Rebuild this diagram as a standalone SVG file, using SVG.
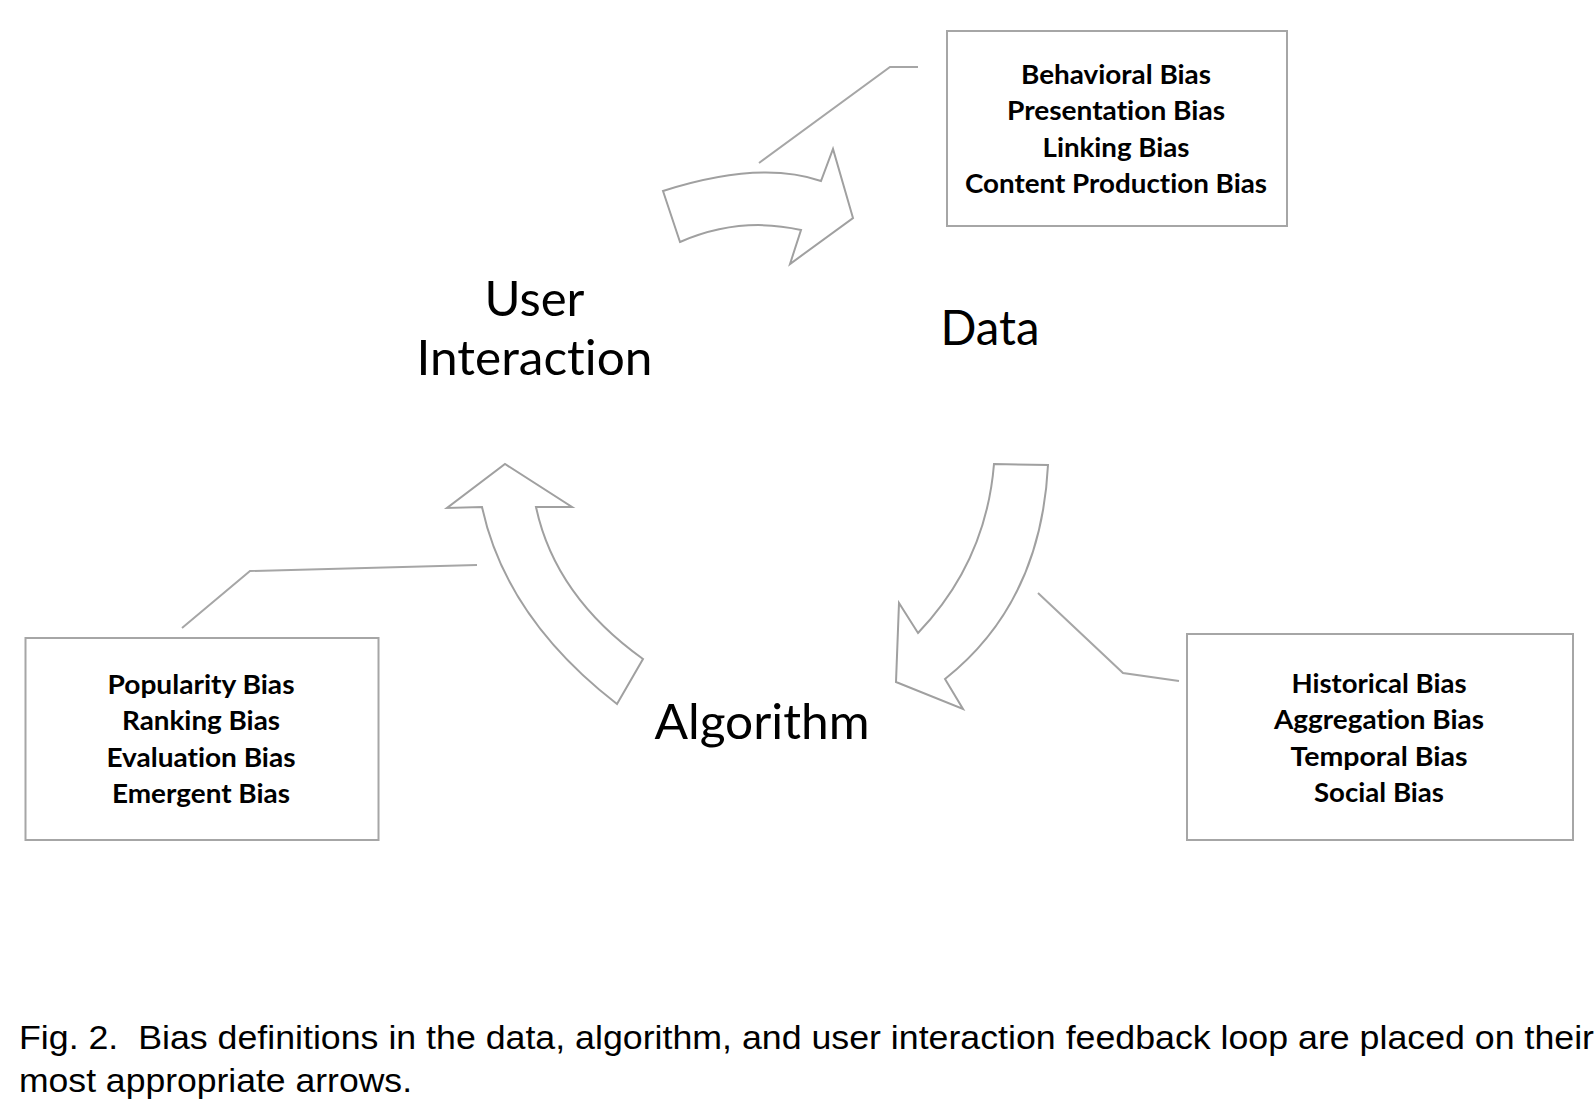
<svg xmlns="http://www.w3.org/2000/svg" width="1596" height="1110" viewBox="0 0 1596 1110">
<style>
.box{fill:#fff;stroke:#a6a6a6;stroke-width:2}
.arrow{fill:#fff;stroke:#a0a0a0;stroke-width:2;stroke-linejoin:miter}
.call{fill:none;stroke:#a6a6a6;stroke-width:2}
.lbl{font-family:Lato,"Open Sans",sans-serif;font-size:48px;fill:#000;text-anchor:middle;font-variant-ligatures:none}
.bias{font-family:Lato,"Open Sans",sans-serif;font-weight:bold;font-size:27px;fill:#000;text-anchor:middle;font-variant-ligatures:none}
.cap{font-family:"Liberation Sans",Arial,sans-serif;font-size:33px;fill:#000;white-space:pre}
</style>
<rect width="1596" height="1110" fill="#fff"/>
<g id="connectors">
<path class="arrow" d="M 663,191 Q 760,160 821,181 L 833,149 L 853,218 L 790,264 L 801,230 Q 740,216 680,242 Z"/>
<path class="arrow" d="M 617,704 Q 506,618 482,507 L 447,508 L 505,464 L 572,507 L 536,507 Q 555,596 643,659 Z"/>
<path class="arrow" d="M 994,464 L 1048,465 Q 1041,603 945,679 L 963,709 L 896,682 L 899,603 L 918,633 Q 986,562 994,464 Z"/>
<polyline class="call" points="759,163 890,67 918,67"/>
<polyline class="call" points="182,628 250,571 477,565"/>
<polyline class="call" points="1038,593 1123,673 1179,681"/>
</g>
<g id="user-interaction">
<text class="lbl" x="534.5" y="315.5" textLength="100" lengthAdjust="spacingAndGlyphs">User</text>
<text class="lbl" x="534.5" y="374.5" textLength="236" lengthAdjust="spacingAndGlyphs">Interaction</text>
</g>
<g id="data">
<text class="lbl" x="990" y="345" textLength="99" lengthAdjust="spacingAndGlyphs">Data</text>
</g>
<g id="algorithm">
<text class="lbl" x="762" y="739" textLength="215" lengthAdjust="spacingAndGlyphs">Algorithm</text>
</g>
<g id="data-biases">
<rect class="box" x="947" y="31" width="340" height="195"/>
<text class="bias" x="1116" y="83.5" textLength="190" lengthAdjust="spacingAndGlyphs">Behavioral Bias</text>
<text class="bias" x="1116" y="120" textLength="218" lengthAdjust="spacingAndGlyphs">Presentation Bias</text>
<text class="bias" x="1116" y="156.7" textLength="147" lengthAdjust="spacingAndGlyphs">Linking Bias</text>
<text class="bias" x="1116" y="193.3" textLength="302" lengthAdjust="spacingAndGlyphs">Content Production Bias</text>
</g>
<g id="algorithm-biases">
<rect class="box" x="25.5" y="638" width="353" height="202"/>
<text class="bias" x="201" y="693.5" textLength="187" lengthAdjust="spacingAndGlyphs">Popularity Bias</text>
<text class="bias" x="201" y="730" textLength="158" lengthAdjust="spacingAndGlyphs">Ranking Bias</text>
<text class="bias" x="201" y="766.7" textLength="189" lengthAdjust="spacingAndGlyphs">Evaluation Bias</text>
<text class="bias" x="201" y="803.3" textLength="178" lengthAdjust="spacingAndGlyphs">Emergent Bias</text>
</g>
<g id="interaction-biases">
<rect class="box" x="1187" y="634" width="386" height="206"/>
<text class="bias" x="1379" y="692.5" textLength="175" lengthAdjust="spacingAndGlyphs">Historical Bias</text>
<text class="bias" x="1379" y="729" textLength="210" lengthAdjust="spacingAndGlyphs">Aggregation Bias</text>
<text class="bias" x="1379" y="765.7" textLength="177" lengthAdjust="spacingAndGlyphs">Temporal Bias</text>
<text class="bias" x="1379" y="802.3" textLength="130" lengthAdjust="spacingAndGlyphs">Social Bias</text>
</g>
<g id="caption">
<text class="cap" xml:space="preserve" x="19" y="1049" textLength="1575" lengthAdjust="spacingAndGlyphs">Fig. 2.  Bias definitions in the data, algorithm, and user interaction feedback loop are placed on their</text>
<text class="cap" x="19" y="1092" textLength="393" lengthAdjust="spacingAndGlyphs">most appropriate arrows.</text>
</g>
</svg>
